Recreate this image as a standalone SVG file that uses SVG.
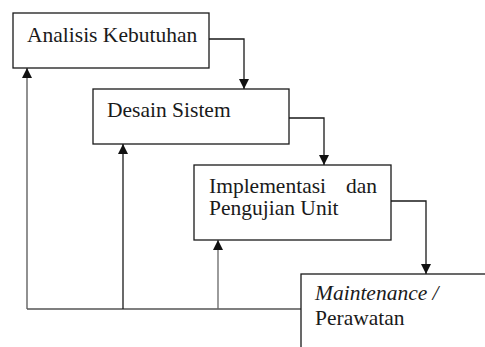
<svg xmlns="http://www.w3.org/2000/svg" width="485" height="347" viewBox="0 0 485 347">
<defs>
<style>
.box{fill:#fff;stroke:#1a1a1a;stroke-width:1.3}
.t{font-family:"Liberation Serif","Times New Roman",serif;font-size:21.5px;fill:#1a1a1a}
.ln{fill:none;stroke:#1a1a1a;stroke-width:1.3}
</style>
<marker id="ah" viewBox="0 0 10 10" refX="10" refY="5" markerWidth="10" markerHeight="10" markerUnits="userSpaceOnUse" orient="auto">
<path d="M0,0 L10,5 L0,10 z" fill="#111"/>
</marker>
</defs>
<rect width="485" height="347" fill="#fff"/>
<g id="connectors">
<path class="ln" d="M209,39 H244 V89" marker-end="url(#ah)"/>
<path class="ln" d="M289,118 H324 V165" marker-end="url(#ah)"/>
<path class="ln" d="M391,201 H426 V274" marker-end="url(#ah)"/>
<path class="ln" style="stroke:#555" d="M301,309 H27"/>
<path class="ln" style="stroke:#555" d="M27,309 V68" marker-end="url(#ah)"/>
<path class="ln" d="M123,309 V144" marker-end="url(#ah)"/>
<path class="ln" style="stroke:#666" d="M218,309 V240" marker-end="url(#ah)"/>
</g>
<g id="analisis">
<rect class="box" x="13" y="13" width="196" height="55"/>
<text class="t" x="27" y="42">Analisis Kebutuhan</text>
</g>
<g id="desain">
<rect class="box" x="93" y="89" width="196" height="55"/>
<text class="t" x="107" y="117">Desain Sistem</text>
</g>
<g id="implementasi">
<rect class="box" x="194" y="165" width="197" height="75"/>
<text class="t" x="209" y="193">Implementasi</text>
<text class="t" x="377" y="193" text-anchor="end">dan</text>
<text class="t" x="209" y="215">Pengujian Unit</text>
</g>
<g id="maintenance">
<rect class="box" x="301" y="274" width="200" height="90"/>
<text class="t" x="315" y="300" font-style="italic">Maintenance /</text>
<text class="t" x="315" y="325">Perawatan</text>
</g>
</svg>
